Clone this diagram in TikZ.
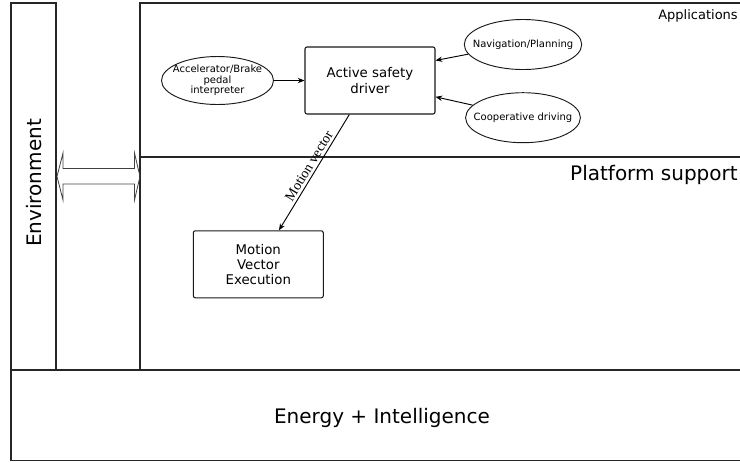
\documentclass[tikz,border=0pt]{standalone}
\usepackage{fontspec}
\setmainfont{DejaVu Sans}
\newfontfamily\labelserif{Liberation Serif}
\usepackage{tikz}
\usetikzlibrary{positioning,arrows.meta,shapes.geometric}

\begin{document}
\begin{tikzpicture}[
	x=0.75pt, y=-0.75pt,
	every node/.style={inner sep=0pt},
	layer_frame/.style={draw=black!85, line width=1pt},
	block_node/.style={
		rectangle, draw=black!90, line width=0.8pt, rounded corners=1.5pt,
		minimum width=97.5pt, minimum height=50.25pt,
		align=center, font=\fontsize{10}{11.3}\selectfont
	},
	input_node/.style={
		ellipse, draw=black!90, line width=0.7pt,
		inner xsep=-6.5pt, inner ysep=0pt,
		minimum width=85.5pt, minimum height=37.5pt,
		align=center, font=\fontsize{7.5}{7.8}\selectfont
	},
	flow_arrow/.style={
		-{Stealth[length=5pt,width=4pt]}, black, line width=0.7pt
	},
	big_label/.style={font=\fontsize{15}{18}\selectfont},
	dbl_arrow/.style={draw=black!75, line width=0.6pt, line join=miter}
	]
	\useasboundingbox (0,0) rectangle (740,462);
	
	% --- 1. KHUNG CÁC TẦNG ---
	\draw[layer_frame] (11,3) rectangle (56,370);
	\draw[layer_frame] (140,3) rectangle (745,370);
	\draw[layer_frame] (140,157) -- (745,157);
	\draw[layer_frame] (11,370) rectangle (745,460.5);
	
	% mũi tên hai chiều giữa môi trường và hệ thống
	\draw[dbl_arrow] (57,176.5) -- (63,153) -- (63,168.5) -- (134.5,168.5) -- (134.5,153)
		-- (140,176.5) -- (134.5,200) -- (134.5,184) -- (63,184) -- (63,200) -- cycle;
	
	% --- 2. NHÃN CÁC TẦNG ---
	\node[big_label, rotate=90] (env) at (34.5,183) {Environment};
	\node[anchor=east, font=\fontsize{9.75}{11}\selectfont] (apps) at (738,16) {Applications};
	\node[big_label, anchor=base east] (platform) at (738,180) {Platform support};
	\node[big_label, anchor=base] (energy) at (382,423) {Energy + Intelligence};
	
	% --- 3. CÁC KHỐI ---
	\node[block_node] (asd) at (370,80.5) {Active safety\\driver};
	\node[block_node] (mve) at (258.3,264.3) {Motion\\Vector\\Execution};
	
	\node[input_node, inner xsep=-4pt, minimum width=84pt, minimum height=36pt] (acc) at (217.5,80.5)
		{Accelerator/Brake\\pedal\\interpreter};
	\node[input_node] (nav) at (523,44.5) {Navigation/Planning};
	\node[input_node] (coop) at (523,117.7) {Cooperative driving};
	
	% --- 4. MŨI TÊN ---
	\draw[flow_arrow] (acc) -- (asd);
	\draw[flow_arrow] (nav.190) -- (asd.17);
	\draw[flow_arrow] (coop.166) -- (asd.-14);
	\draw[flow_arrow] (asd) -- node[pos=0.48, sloped, above=2pt, font=\labelserif\fontsize{10.5}{12}\selectfont] (mv_label) {Motion vector} (mve);
	
\end{tikzpicture}
\end{document}
